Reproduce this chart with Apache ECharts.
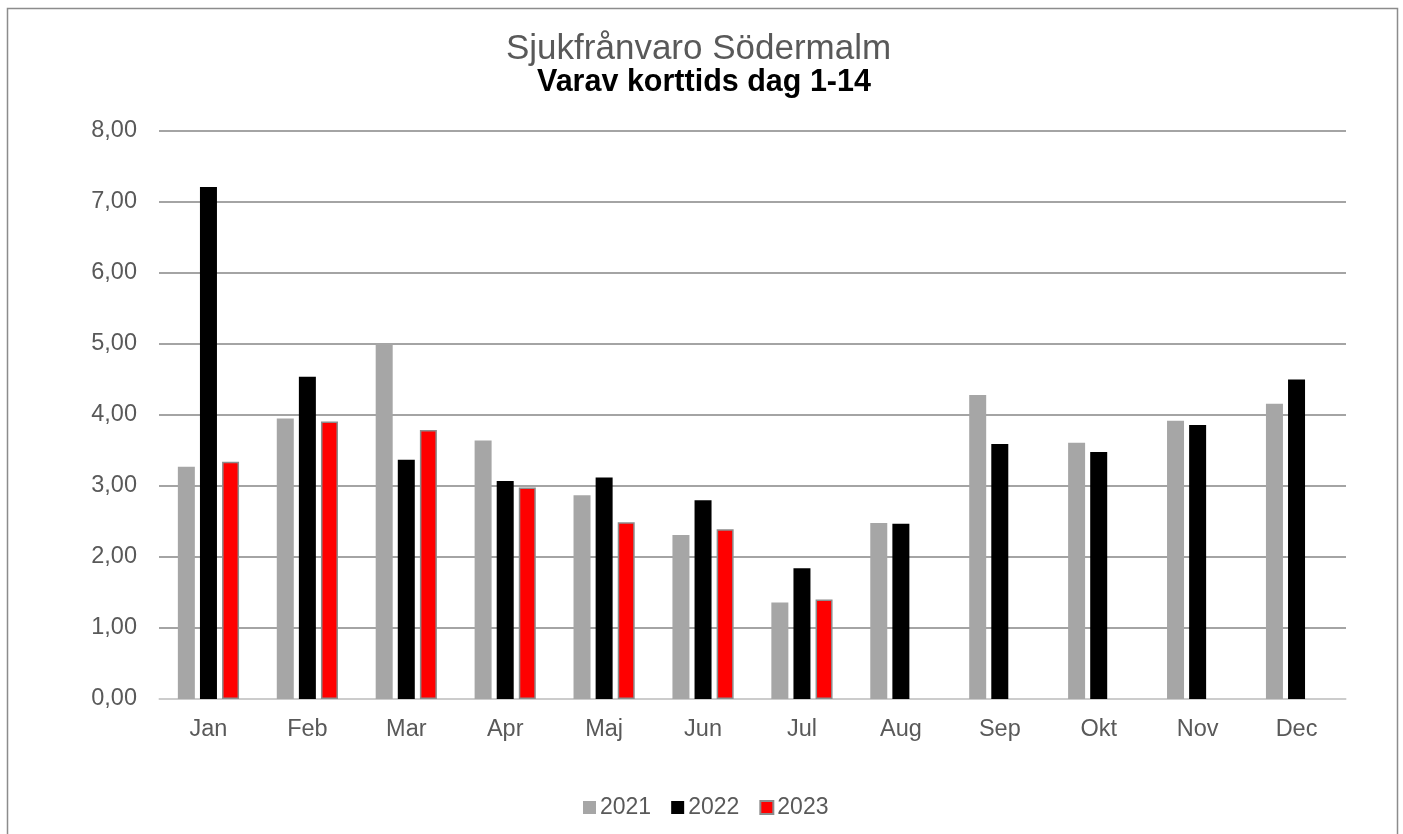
<!DOCTYPE html>
<html>
<head>
<meta charset="utf-8">
<script src="https://cdn.jsdelivr.net/npm/echarts@6/dist/echarts.min.js"></script>
<style>
html,body{margin:0;padding:0;background:#fff;}
#c{width:1403px;height:834px;}
</style>
</head>
<body>
<div id="c"></div>
<script>
const months = ['Jan','Feb','Mar','Apr','Maj','Jun','Jul','Aug','Sep','Okt','Nov','Dec'];
const y2021 = [3.27, 3.95, 5.01, 3.64, 2.87, 2.31, 1.36, 2.48, 4.28, 3.61, 3.92, 4.16];
const y2022 = [7.21, 4.54, 3.37, 3.07, 3.12, 2.80, 1.84, 2.47, 3.59, 3.48, 3.86, 4.50];
const y2023 = [3.34, 3.91, 3.79, 2.98, 2.49, 2.39, 1.40, null, null, null, null, null];
const seriesNames = ['2021','2022','2023'];
const titleText = 'Sjukfrånvaro Södermalm';
const subtitleText = 'Varav korttids dag 1-14';

const font = "'Liberation Sans', Arial, sans-serif";
const chart = echarts.init(document.getElementById('c'), null, {renderer:'canvas'});
chart.setOption({
  animation: false,
  textStyle: {fontFamily: font},
  title: [{
    text: titleText,
    left: 506,
    top: 32,
    padding: 0,
    textStyle: {fontFamily: font, fontSize: 35, fontWeight: 'normal', color: '#595959'}
  }, {
    text: subtitleText,
    left: 537,
    top: 67,
    padding: 0,
    textStyle: {fontFamily: font, fontSize: 30.5, fontWeight: 'bold', color: '#000000'}
  }],
  legend: {
    data: seriesNames,
    top: 796,
    left: 583,
    padding: 0,
    icon: 'rect',
    itemWidth: 13,
    itemHeight: 13,
    itemGap: 20,
    textStyle: {fontFamily: font, fontSize: 23, color: '#595959', padding: [0,0,0,-1]}
  },
  grid: {left: 159, right: 57, top: 131, bottom: 135},
  xAxis: {
    type: 'category',
    data: months,
    axisLine: {lineStyle: {color: '#d9d9d9', width: 1.5}},
    axisTick: {show: false},
    axisLabel: {fontFamily: font, fontSize: 23.5, color: '#595959', margin: 18.5}
  },
  yAxis: {
    type: 'value',
    min: 0, max: 8, interval: 1,
    axisLine: {show: false},
    axisTick: {show: false},
    splitLine: {lineStyle: {color: '#868686', width: 1.5}},
    axisLabel: {fontFamily: font, fontSize: 23.5, color: '#595959', margin: 22,
      formatter: v => v.toFixed(2).replace('.', ',')}
  },
  series: [
    {name: '2021', type: 'bar', data: y2021, barWidth: 17, barGap: '30%',
      itemStyle: {color: '#a6a6a6'}},
    {name: '2022', type: 'bar', data: y2022, barWidth: 17, barGap: '30%',
      itemStyle: {color: '#000000'}},
    {name: '2023', type: 'bar', data: y2023, barWidth: 17, barGap: '30%',
      itemStyle: {color: '#ff0000', borderColor: '#8c8c8c', borderWidth: 1.5}}
  ],
  graphic: [{
    type: 'rect',
    shape: {x: 7.5, y: 8.5, width: 1390, height: 900},
    style: {fill: 'none', stroke: '#8c8c8c', lineWidth: 1.5},
    silent: true, z: -1
  }]
});
</script>
</body>
</html>
